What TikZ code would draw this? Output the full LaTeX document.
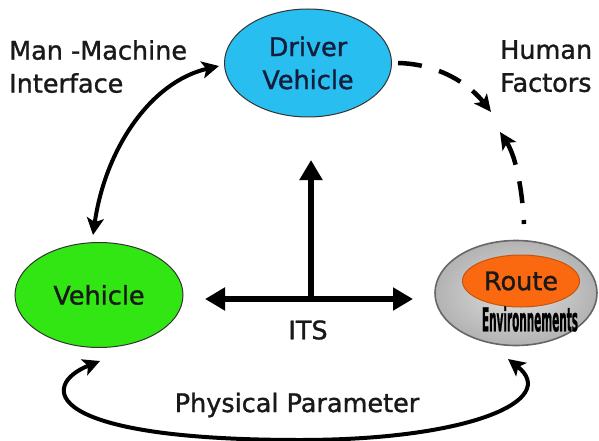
\documentclass[tikz,border=0pt]{standalone}
\usepackage{fontspec}
\setmainfont{DejaVu Sans}[FakeBold=1.2]
\usetikzlibrary{arrows.meta,shapes.geometric}
\definecolor{drvblue}{RGB}{40,190,240}
\definecolor{vehgreen}{RGB}{50,230,20}
\definecolor{rteorange}{RGB}{250,105,15}
\definecolor{rtegray}{RGB}{210,210,210}
\definecolor{navy}{RGB}{20,30,60}
\tikzset{
  x=1pt,y=-1pt,
  txt/.style={font=\fontsize{25.5}{33}\selectfont,text=black!90},
  blob/.style={ellipse,draw=black!80,line width=1pt,inner sep=0pt},
  lbl/.style={txt,align=left,inner sep=0pt},
  thick arrow/.style={line width=6pt,-{Triangle[length=20pt,width=22pt]}},
  curve arrow/.style={line width=4pt,{Stealth[length=17pt,width=17pt,inset=4pt]}-{Stealth[length=17pt,width=17pt,inset=4pt]}},
  dashtip/.style={line width=4.5pt,-{Stealth[length=17pt,width=16pt,inset=4pt]}}
}
\begin{document}
\begin{tikzpicture}
\useasboundingbox (0,0) rectangle (599,441);
% nodes
\node[blob,fill=drvblue,minimum width=167pt,minimum height=108pt,txt,text=navy,align=center] (drv) at (308,63) {Driver\\Vehicle};
\node[blob,fill=vehgreen,minimum width=168pt,minimum height=105pt,txt] (veh) at (99,295) {Vehicle};
\node[blob,draw=black!60,line width=1.6pt,inner color=rtegray!70,outer color=rtegray!85!black,
      minimum width=162pt,minimum height=105pt] (rte) at (516,293) {};
\node[blob,fill=rteorange,draw=rteorange!80!black,minimum width=117pt,minimum height=52pt,txt] (rtei) at (521,281) {Route};
\node[inner sep=0pt] (env) at (530,319) {\resizebox{96pt}{25pt}{\bfseries Environnements}};
% labels
\node[lbl,anchor=north west] (mmi) at (9,40) {Man -Machine\\Interface};
\node[lbl,anchor=north west] (hf) at (500,40) {Human\\Factors};
\node[txt] (its) at (308,330) {ITS};
\node[txt] (pp) at (297,405) {Physical Parameter};
% coordinates
\coordinate (hl) at (205,299);
\coordinate (hr) at (413,299);
\coordinate (vb) at (311,299);
\coordinate (vt) at (311,160);
\coordinate (mmt) at (219,66);
\coordinate (mmb) at (93,235);
\coordinate (bl) at (100,361);
\coordinate (br) at (508,359);
\coordinate (d1s) at (398,63);
\coordinate (d1e) at (491,112);
\coordinate (d2s) at (524,224);
\coordinate (d2e) at (500,132);
% ITS arrows
\draw[thick arrow] (vb) -- (hl);
\draw[thick arrow] (vb) -- (hr);
\draw[thick arrow] (vb) -- (vt);
% man-machine
\draw[curve arrow] (mmb) .. controls (105,150) and (150,82) .. (mmt);
% physical parameter
\draw[curve arrow] (bl) .. controls (40,385) and (40,440) .. (300,440)
   .. controls (470,440) and (560,400) .. (br);
% human factors
\draw[dashtip,dash pattern=on 24pt off 18pt on 24pt off 15pt on 40pt] (d1s) .. controls (440,64) and (470,85) .. (d1e);
\draw[dashtip,dash pattern=on 4pt off 17pt on 22pt off 17pt on 40pt] (d2s) .. controls (522,185) and (515,155) .. (d2e);
\end{tikzpicture}
\end{document}
